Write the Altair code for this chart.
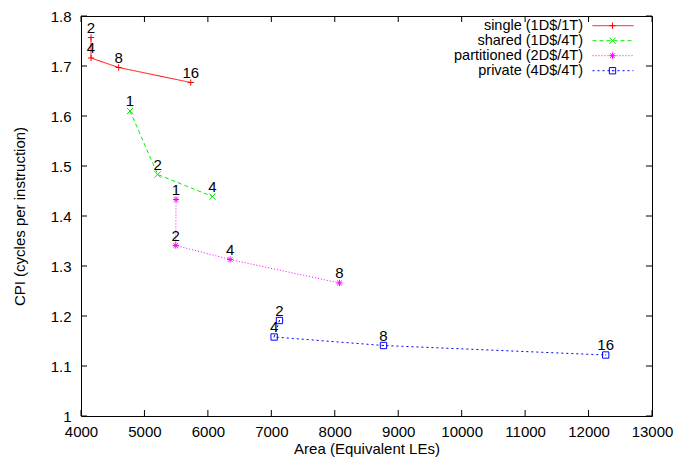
import altair as alt
import pandas as pd

series_names = ["single (1D$/1T)", "shared (1D$/4T)", "partitioned (2D$/4T)", "private (4D$/4T)"]
series_colors = ["#ff0000", "#00ee00", "#ff00ff", "#0000ff"]
series_dash = [[1, 0], [4, 3], [1, 2], [2, 3]]
series_shapes = [
    "M-1,0L1,0M0,-1L0,1",
    "M-1,-1L1,1M-1,1L1,-1",
    "M-1,0L1,0M0,-1L0,1M-0.75,-0.75L0.75,0.75M-0.75,0.75L0.75,-0.75",
    "M-1,-1L1,-1L1,1L-1,1Z M0,-0.15L0,0.15",
]

single_labels = ["2", "4", "8", "16"]
single_area = [4158, 4158, 4594, 5730]
single_cpi = [1.757, 1.716, 1.697, 1.667]

shared_labels = ["1", "2", "4"]
shared_area = [4773, 5209, 6071]
shared_cpi = [1.610, 1.483, 1.439]

part_labels = ["1", "2", "4", "8"]
part_area = [5498, 5493, 6350, 8074]
part_cpi = [1.433, 1.341, 1.313, 1.266]

priv_labels = ["2", "4", "8", "16"]
priv_area = [7128, 7044, 8768, 12270]
priv_cpi = [1.191, 1.158, 1.141, 1.122]

x_ticks = [4000, 5000, 6000, 7000, 8000, 9000, 10000, 11000, 12000, 13000]
y_ticks = [1.0, 1.1, 1.2, 1.3, 1.4, 1.5, 1.6, 1.7, 1.8]

rows = []
for name, labs, xs, ys in zip(series_names,
                              [single_labels, shared_labels, part_labels, priv_labels],
                              [single_area, shared_area, part_area, priv_area],
                              [single_cpi, shared_cpi, part_cpi, priv_cpi]):
    for i, (l, x, y) in enumerate(zip(labs, xs, ys)):
        rows.append({"series": name, "label": l, "area": x, "cpi": y, "ord": i})
df = pd.DataFrame(rows)

W, H = 571, 400
FONT = "Liberation Sans"
FS = 15
LFS = 14.5

xscale = alt.Scale(domain=[4000, 13000], nice=False, zero=False)
yscale = alt.Scale(domain=[1.0, 1.8], nice=False, zero=False)

xenc = alt.X("area:Q", scale=xscale,
             axis=alt.Axis(values=x_ticks, title="Area (Equivalent LEs)", grid=False, domain=False,
                           ticks=False, tickSize=0, labelPadding=8, labelFontSize=FS,
                           labelColor="black", titleColor="black", titleFontSize=FS,
                           titleFontWeight="normal", titleX=W / 2, titleY=32,
                           titleBaseline="middle", format="d", labelFlush=False))
yenc = alt.Y("cpi:Q", scale=yscale,
             axis=alt.Axis(values=y_ticks, title="CPI (cycles per instruction)", grid=False,
                           domain=False, ticks=False, tickSize=0, labelPadding=10,
                           labelFontSize=FS, labelColor="black", titleColor="black",
                           titleFontSize=FS, titleFontWeight="normal", titleX=-62,
                           titleY=H / 2, titleAngle=270, titleAlign="center",
                           titleBaseline="middle", format=".2~f", labelFlush=False))

color = alt.Color("series:N", scale=alt.Scale(domain=series_names, range=series_colors), legend=None)
dash = alt.StrokeDash("series:N", scale=alt.Scale(domain=series_names, range=series_dash), legend=None)
shape = alt.Shape("series:N", scale=alt.Scale(domain=series_names, range=series_shapes), legend=None)

base = alt.Chart(df)
lines = base.mark_line(strokeWidth=1).encode(x=xenc, y=yenc, color=color, strokeDash=dash,
                                              order="ord:Q", detail="series:N")
points = base.mark_point(filled=False, strokeWidth=1, size=40, opacity=1).encode(
    x="area:Q", y="cpi:Q", color=color, shape=shape)
labels = base.mark_text(dy=-5, baseline="alphabetic", align="center", fontSize=FS, color="black").encode(
    x="area:Q", y="cpi:Q", text="label:N")

xt = pd.DataFrame({"area": x_ticks})
yt = pd.DataFrame({"cpi": y_ticks})
TL = 6
xt_bot = alt.Chart(xt).mark_rule(color="black", strokeWidth=1).encode(
    x="area:Q", y=alt.value(H), y2=alt.value(H - TL))
xt_top = alt.Chart(xt).mark_rule(color="black", strokeWidth=1).encode(
    x="area:Q", y=alt.value(0), y2=alt.value(TL))
yt_left = alt.Chart(yt).mark_rule(color="black", strokeWidth=1).encode(
    y="cpi:Q", x=alt.value(0), x2=alt.value(TL))
yt_right = alt.Chart(yt).mark_rule(color="black", strokeWidth=1).encode(
    y="cpi:Q", x=alt.value(W), x2=alt.value(W - TL))

legend_layers = []
leg_y0, leg_dy = 9.7, 15
for i, name in enumerate(series_names):
    ld = pd.DataFrame({"name": [name]})
    yy = leg_y0 + i * leg_dy
    lc = alt.Chart(ld)
    legend_layers.append(lc.mark_text(align="right", baseline="middle", fontSize=LFS, color="black").encode(
        text="name:N", x=alt.value(502), y=alt.value(yy)))
    legend_layers.append(lc.mark_rule(strokeWidth=1, color=series_colors[i], strokeDash=series_dash[i]).encode(
        x=alt.value(511.5), x2=alt.value(552.5), y=alt.value(yy)))
    legend_layers.append(lc.mark_point(filled=False, strokeWidth=1, size=40, opacity=1,
                                       color=series_colors[i], shape=series_shapes[i]).encode(
        x=alt.value(531.5), y=alt.value(yy)))

chart = alt.layer(lines, points, labels, xt_bot, xt_top, yt_left, yt_right, *legend_layers).properties(
    width=W, height=H, autosize="none",
    padding={"left": 73, "top": 8, "right": 39, "bottom": 41},
).configure(font=FONT).configure_view(stroke="black", strokeWidth=1)

chart.save("out.html", embed_options={"renderer": "svg", "actions": False})
